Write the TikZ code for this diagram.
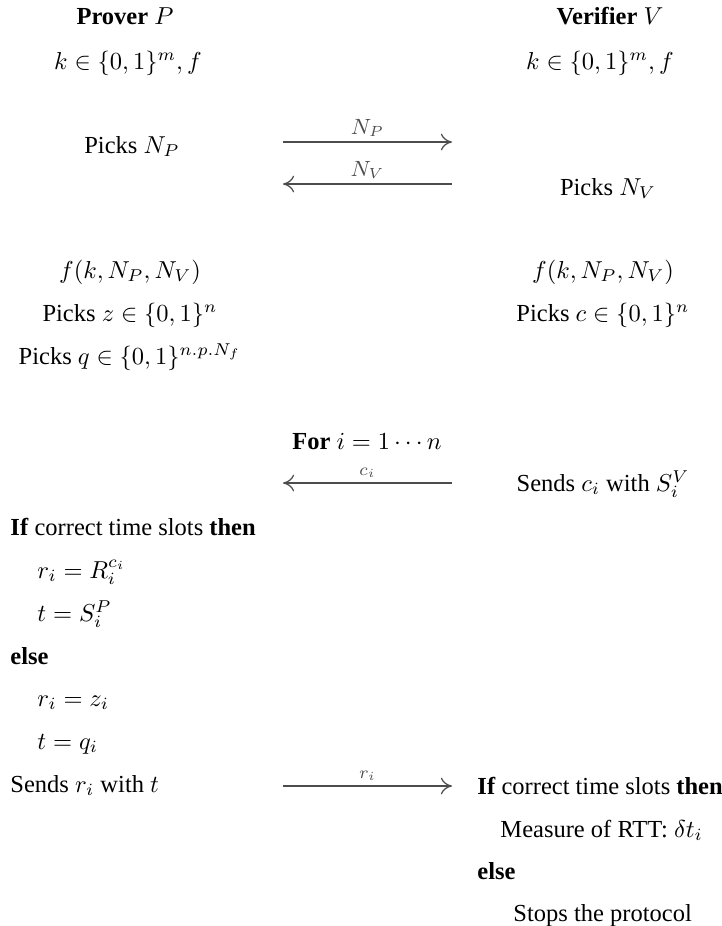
\documentclass[tikz,border=0pt]{standalone}
\usepackage{amsmath}
\usepackage[no-math]{fontspec}
\setmainfont{Liberation Serif}
\usetikzlibrary{arrows.meta, calc}

\begin{document}
\begin{tikzpicture}[x=0.01434cm, y=-0.01434cm, font=\normalsize]
\useasboundingbox (0,0) rectangle (722,926);
\def\xl{130}   % prover column
\def\xr{603}   % verifier column
\def\xm{367}   % channel
% styles
\tikzset{txt/.style={anchor=base, inner sep=0pt},
         lft/.style={anchor=base west, inner sep=0pt},
         msg/.style={-{To[length=1.6mm, width=2.4mm]}, black!70, line width=0.5pt},
         msglbl/.style={midway, above, inner sep=2pt}}

% ---- parties
\node[txt] (prover) at (125,24) {\textbf{Prover} $P$};
\node[txt] (verifier) at (610,24) {\textbf{Verifier} $V$};
\node[txt] (keyP) at (128,69) {$k\in\{0,1\}^m, f$};
\node[txt] (keyV) at (600,69) {$k\in\{0,1\}^m, f$};

% ---- nonces
\node[txt] (pickNP) at (132,153) {Picks $N_P$};
\node[txt] (pickNV) at (608,195) {Picks $N_V$};
\coordinate (np1) at (283,142); \coordinate (np2) at (452,142);
\coordinate (nv1) at (452,184); \coordinate (nv2) at (283,184);
\draw[msg] (np1) -- (np2) node[msglbl, font=\small] (labNP) {$N_P$};
\draw[msg] (nv1) -- (nv2) node[msglbl, font=\small] (labNV) {$N_V$};

% ---- setup
\node[txt] (fP) at (\xl,278) {$f(k,N_P,N_V)$};
\node[txt] (fV) at (\xr,278) {$f(k,N_P,N_V)$};
\node[txt] (pickz) at (\xl,321) {Picks $z\in\{0,1\}^n$};
\node[txt] (pickc) at (\xr,321) {Picks $c\in\{0,1\}^n$};
\node[txt] (pickq) at (\xl,364) {Picks $q\in\{0,1\}^{n.p.N_f}$};

% ---- rapid bit exchange
\node[txt] (forloop) at (\xm,449) {\textbf{For} $i=1\cdots n$};
\coordinate (ci1) at (452,483); \coordinate (ci2) at (283,483);
\draw[msg] (ci1) -- (ci2) node[msglbl, font=\scriptsize] (labci) {$c_i$};
\node[txt] (sendc) at (\xr,491) {Sends $c_i$ with $S_i^V$};

% prover side
\node[lft] (ifP) at (10,535) {\textbf{If} correct time slots \textbf{then}};
\node[lft] (rR) at (37,578) {$r_i=R_i^{c_i}$};
\node[lft] (tS) at (37,621) {$t=S_i^P$};
\node[lft] (elseP) at (10,664) {\textbf{else}};
\node[lft] (rz) at (37,706) {$r_i=z_i$};
\node[lft] (tq) at (37,749) {$t=q_i$};
\node[lft] (sendr) at (10,792) {Sends $r_i$ with $t$};
\coordinate (ri1) at (283,786); \coordinate (ri2) at (452,786);
\draw[msg] (ri1) -- (ri2) node[msglbl, font=\scriptsize] (labri) {$r_i$};

% verifier side
\node[lft] (ifV) at (477,794) {\textbf{If} correct time slots \textbf{then}};
\node[lft] (measure) at (500,837) {Measure of RTT: $\delta t_i$};
\node[lft] (elseV) at (477,879) {\textbf{else}};
\node[lft] (stops) at (513,921) {Stops the protocol};
\end{tikzpicture}
\end{document}
